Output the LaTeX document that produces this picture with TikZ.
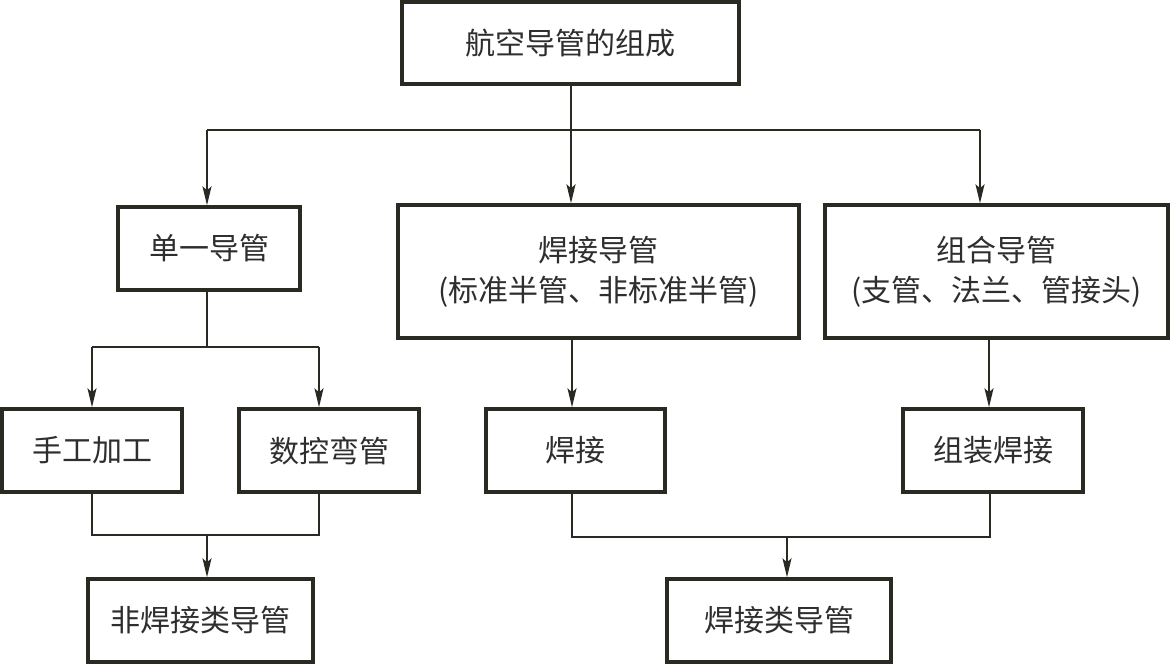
\documentclass[tikz,border=0pt]{standalone}
\usepackage{fontspec}
\setmainfont{Noto Sans CJK SC}
\usetikzlibrary{arrows.meta}
\definecolor{ink}{HTML}{2A2A22}
\definecolor{txt}{HTML}{2E2E2E}
\tikzset{
  box/.style={draw=ink, line width=3.4pt, fill=white, inner sep=0pt, align=center,
    text=txt, font=\fontsize{30}{40}\selectfont},
  conn/.style={draw=ink, line width=1.6pt},
  arr/.style={conn, -{Stealth[length=19pt,width=9pt,inset=4pt]}}
}
\begin{document}
\begin{tikzpicture}[x=1pt,y=-1pt]
\useasboundingbox (0,0) rectangle (1170,664);
\fill[white] (0,0) rectangle (1170,664);
% nodes
\node[box, minimum width=337pt, minimum height=82pt] (top) at (570.5,43) {航空导管的组成};
\node[box, minimum width=182pt, minimum height=83pt] (dy) at (209,248.5) {单一导管};
\node[box, minimum width=401pt, minimum height=133pt] (hj) at (598.5,271.5) {焊接导管\\(标准半管、非标准半管)};
\node[box, minimum width=343pt, minimum height=133pt] (zh) at (996.5,271.5) {组合导管\\(支管、法兰、管接头)};
\node[box, minimum width=180pt, minimum height=83pt] (sg) at (92,450.5) {手工加工};
\node[box, minimum width=180pt, minimum height=83pt] (sk) at (329,450.5) {数控弯管};
\node[box, minimum width=179pt, minimum height=83pt] (w) at (575.5,450.5) {焊接};
\node[box, minimum width=180pt, minimum height=83pt] (zz) at (993,450.5) {组装焊接};
\node[box, minimum width=225pt, minimum height=83pt] (fh) at (200.5,620.5) {非焊接类导管};
\node[box, minimum width=224pt, minimum height=83pt] (hl) at (779,620.5) {焊接类导管};
% junction coordinates
\coordinate (j1) at (571,130);
\coordinate (h1l) at (207,130);
\coordinate (h1r) at (980,130);
\coordinate (h2c) at (207,347);
\coordinate (h2l) at (92,347);
\coordinate (h2r) at (319,347);
\coordinate (h3l) at (92,535);
\coordinate (h3r) at (319,535);
\coordinate (h3c) at (207,535);
\coordinate (cx) at (572,0);
\coordinate (rx) at (989,0);
\coordinate (h4l) at (572,537);
\coordinate (h4r) at (990,537);
\coordinate (h4c) at (787,537);
% connectors
\draw[conn] (j1 |- top.south) -- (j1);
\draw[conn] (h1l) -- (h1r);
\draw[arr] (h1l) -- (h1l |- dy.north);
\draw[arr] (j1) -- (j1 |- hj.north);
\draw[arr] (h1r) -- (h1r |- zh.north);
\draw[conn] (h2c |- dy.south) -- (h2c);
\draw[conn] (h2l) -- (h2r);
\draw[arr] (h2l) -- (h2l |- sg.north);
\draw[arr] (h2r) -- (h2r |- sk.north);
\draw[conn] (h3l |- sg.south) -- (h3l) -- (h3r) -- (h3r |- sk.south);
\draw[arr] (h3c) -- (h3c |- fh.north);
\draw[arr] (cx |- hj.south) -- (cx |- w.north);
\draw[arr] (rx |- zh.south) -- (rx |- zz.north);
\draw[conn] (h4l |- w.south) -- (h4l) -- (h4r) -- (h4r |- zz.south);
\draw[arr] (h4c) -- (h4c |- hl.north);
\end{tikzpicture}
\end{document}
